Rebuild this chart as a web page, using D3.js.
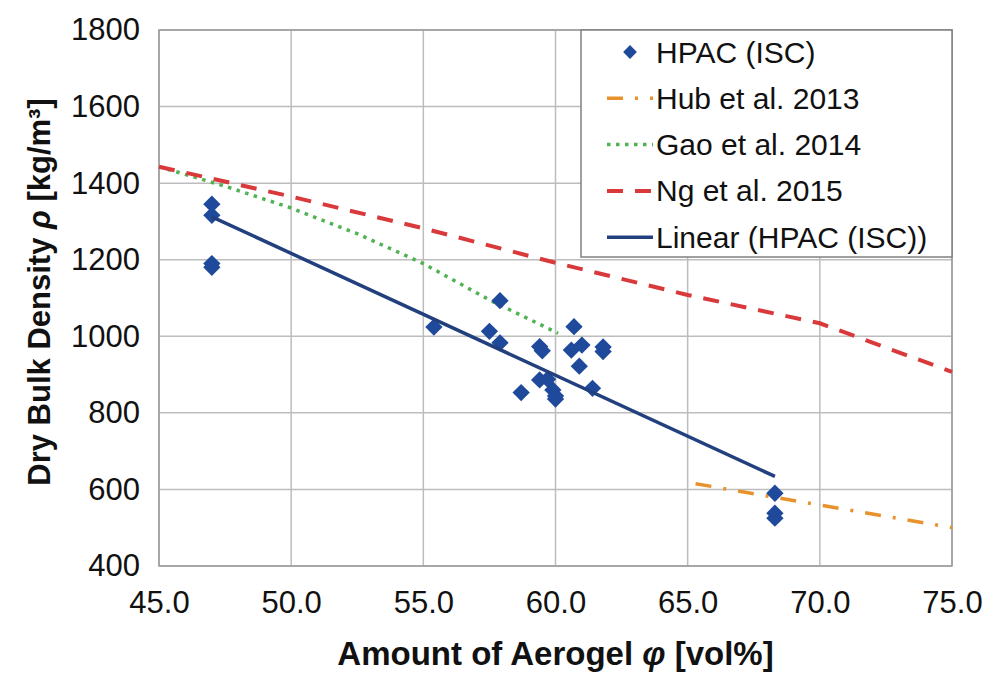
<!DOCTYPE html>
<html>
<head>
<meta charset="utf-8">
<script src="https://cdn.jsdelivr.net/npm/d3@7"></script>
<style>
  body { margin: 0; background: #fff; }
  #chart svg { display: block; font-family: "Liberation Sans", Arial, sans-serif; }
</style>
</head>
<body>
<div id="chart"></div>
<script>
// tick labels
const xTicks = [45, 50, 55, 60, 65, 70, 75];
const yTicks = [400, 600, 800, 1000, 1200, 1400, 1600, 1800];

// measured points HPAC (ISC)
const hpacX = [47.0, 47.0, 47.0, 47.0, 55.4, 57.5, 57.9, 57.9, 58.7, 59.4, 59.5, 59.4, 59.7,
  59.9, 60.0, 60.0, 60.7, 60.6, 61.0, 60.9, 61.4, 61.8, 61.8, 68.3, 68.3, 68.3];
const hpacY = [1345, 1316, 1190, 1180, 1024, 1013, 1093, 983, 853, 973, 962, 886, 888,
  860, 844, 836, 1025, 964, 977, 922, 864, 972, 960, 590, 538, 525];

// trend line of HPAC (ISC)
const linearX = [47.0, 68.3];
const linearY = [1312, 634];

// literature curves
const hubX = [65.3, 75.0];
const hubY = [615, 500];
const gaoX = [45, 47.5, 50, 52.5, 55, 57.5, 60.1];
const gaoY = [1443, 1392, 1335, 1268, 1190, 1095, 1008];
const ngX = [45, 50, 55, 60, 65, 70, 75];
const ngY = [1443, 1365, 1282, 1192, 1108, 1034, 907];

const seriesNames = ["HPAC (ISC)", "Hub et al. 2013", "Gao et al. 2014", "Ng et al. 2015", "Linear (HPAC (ISC))"];

function drawChart() {
  const container = d3.select("#chart");
  container.selectAll("*").remove();

  const width = 989;
  const height = 673;
  const margin = { top: 30, right: 37, bottom: 107, left: 159 };
  const w = width - margin.left - margin.right;
  const h = height - margin.top - margin.bottom;

  const svg = container.append("svg")
    .attr("width", width)
    .attr("height", height);

  const g = svg.append("g")
    .attr("transform", `translate(${margin.left},${margin.top})`);

  const x = d3.scaleLinear().domain([45, 75]).range([0, w]);
  const y = d3.scaleLinear().domain([400, 1800]).range([h, 0]);

  // grid
  g.selectAll(".vgrid")
    .data(xTicks)
    .join("line")
    .attr("x1", d => x(d)).attr("x2", d => x(d))
    .attr("y1", 0).attr("y2", h)
    .attr("stroke", "#bdbdbd").attr("stroke-width", 1.5);

  g.selectAll(".hgrid")
    .data(yTicks)
    .join("line")
    .attr("x1", 0).attr("x2", w)
    .attr("y1", d => y(d)).attr("y2", d => y(d))
    .attr("stroke", "#bdbdbd").attr("stroke-width", 1.5);

  g.append("rect")
    .attr("width", w).attr("height", h)
    .attr("fill", "none")
    .attr("stroke", "#9a9a9a").attr("stroke-width", 1.5);

  // axes
  const xAxis = g.append("g")
    .attr("transform", `translate(0,${h})`)
    .call(d3.axisBottom(x).tickValues(xTicks).tickFormat(d3.format(".1f")).tickSize(0).tickPadding(25));
  const yAxis = g.append("g")
    .call(d3.axisLeft(y).tickValues(yTicks).tickFormat(d3.format("d")).tickSize(0).tickPadding(19));
  [xAxis, yAxis].forEach(a => {
    a.select(".domain").remove();
    a.selectAll("text")
      .attr("font-family", "Liberation Sans, Arial, sans-serif")
      .attr("font-size", 31)
      .attr("fill", "#111");
  });

  const line = d3.line().x(d => x(d[0])).y(d => y(d[1]));
  const zip = (xs, ys) => xs.map((v, i) => [v, ys[i]]);

  const styles = [
    { name: seriesNames[1], data: zip(hubX, hubY), color: "#e8922e", dash: "16,12,3,12", width: 3.5 },
    { name: seriesNames[2], data: zip(gaoX, gaoY), color: "#4fb353", dash: "3.5,5.5", width: 3.5 },
    { name: seriesNames[3], data: zip(ngX, ngY), color: "#d9393a", dash: "16,12", width: 4 },
  ];

  styles.forEach(s => {
    g.append("path")
      .datum(s.data)
      .attr("d", line)
      .attr("fill", "none")
      .attr("stroke", s.color)
      .attr("stroke-width", s.width)
      .attr("stroke-dasharray", s.dash);
  });

  const diamond = d3.symbol(d3.symbolSquare, 150);

  g.selectAll(".pt")
    .data(zip(hpacX, hpacY))
    .join("path")
    .attr("d", diamond)
    .attr("transform", d => `translate(${x(d[0])},${y(d[1])}) rotate(45)`)
    .attr("fill", "#1f4a9c");

  g.append("path")
    .datum(zip(linearX, linearY))
    .attr("d", line)
    .attr("fill", "none")
    .attr("stroke", "#22407e")
    .attr("stroke-width", 3.5);

  // legend
  const lx = 581 - margin.left;
  const legend = g.append("g");
  legend.append("rect")
    .attr("x", lx).attr("y", 0)
    .attr("width", w - lx).attr("height", 227)
    .attr("fill", "#fff")
    .attr("stroke", "#808080").attr("stroke-width", 1.5);

  const items = [
    { name: seriesNames[0], type: "marker" },
    Object.assign({ type: "line" }, styles[0]),
    Object.assign({ type: "line" }, styles[1]),
    Object.assign({ type: "line" }, styles[2]),
    { name: seriesNames[4], type: "line", color: "#22407e", dash: null, width: 3.5 },
  ];

  const entry = legend.selectAll(".legend")
    .data(items)
    .join("g")
    .attr("transform", (d, i) => `translate(${lx},${22 + i * 46.3})`);

  entry.filter(d => d.type === "marker")
    .append("path")
    .attr("d", d3.symbol(d3.symbolSquare, 95))
    .attr("transform", "translate(49,0) rotate(45)")
    .attr("fill", "#1f4a9c");

  entry.filter(d => d.type === "line")
    .append("line")
    .attr("x1", 26).attr("x2", 72)
    .attr("stroke", d => d.color)
    .attr("stroke-width", d => d.width)
    .attr("stroke-dasharray", d => d.dash);

  entry.append("text")
    .attr("x", 75)
    .attr("y", 10.5)
    .attr("font-size", 30)
    .attr("fill", "#111")
    .text(d => d.name);

  // axis titles
  svg.append("text")
    .attr("x", margin.left + w / 2)
    .attr("y", 665)
    .attr("text-anchor", "middle")
    .attr("font-size", 33)
    .attr("font-weight", "bold")
    .attr("fill", "#111")
    .call(t => {
      t.append("tspan").text("Amount of Aerogel ");
      t.append("tspan").attr("font-style", "italic").text("φ");
      t.append("tspan").text(" [vol%]");
    });

  svg.append("text")
    .attr("transform", `translate(50,${margin.top + h / 2 - 6}) rotate(-90)`)
    .attr("text-anchor", "middle")
    .attr("font-size", 31)
    .attr("font-weight", "bold")
    .attr("fill", "#111")
    .call(t => {
      t.append("tspan").text("Dry Bulk Density ");
      t.append("tspan").attr("font-style", "italic").text("ρ");
      t.append("tspan").text(" [kg/m³]");
    });
}

drawChart();
</script>
</body>
</html>
